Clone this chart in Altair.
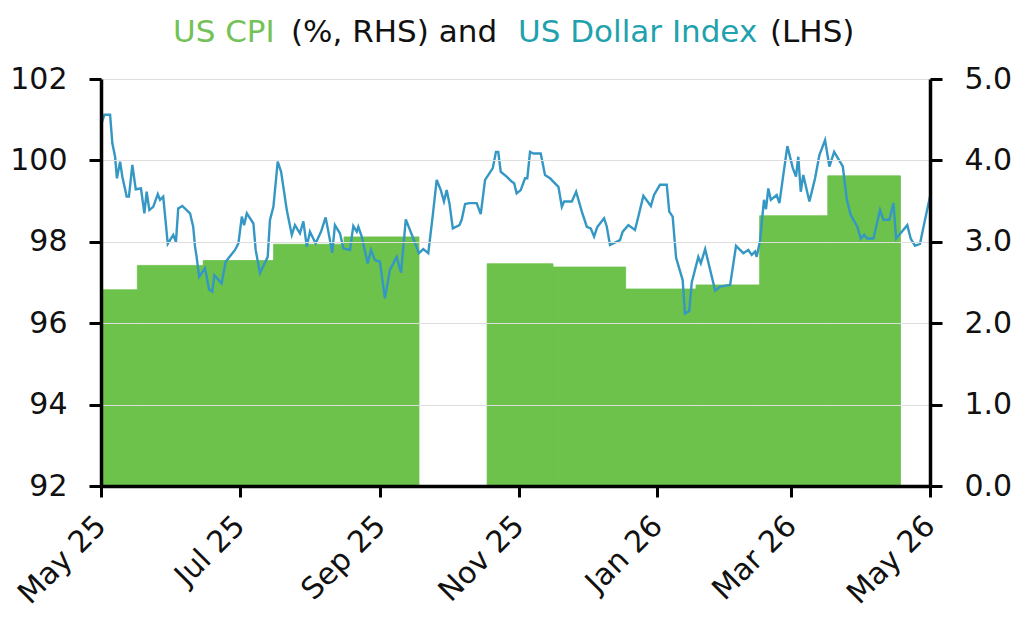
import altair as alt
import pandas as pd

# ---------------------------------------------
# DATA
# ---------------------------------------------

# US CPI (%), stepped: each value holds from start to end (right axis)
cpi_start = ["2025-05-01", "2025-05-17", "2025-06-15", "2025-07-16", "2025-08-16",
             "2025-10-18", "2025-11-16", "2025-12-18", "2026-01-18", "2026-02-15",
             "2026-03-17"]
cpi_end = ["2025-05-17", "2025-06-15", "2025-07-16", "2025-08-16", "2025-09-18",
           "2025-11-16", "2025-12-18", "2026-01-18", "2026-02-15", "2026-03-17",
           "2026-04-18"]
cpi_value = [2.41, 2.71, 2.77, 2.97, 3.06, 2.73, 2.69, 2.42, 2.47, 3.32, 3.81]

# US Dollar Index: days after 1 May 2025 and index level (left axis)
dxy_day = [0, 1.5, 4.0, 5.0, 6.2, 7.0, 8.4, 9.4, 11.3, 12.3, 13.8, 15.3, 17.6, 19.1,
           20.1, 21.3, 23.0, 25.0, 26.0, 27.4, 29.4, 31.8, 33.0, 34.0, 35.8, 39.2,
           40.6, 41.4, 42.1, 43.2, 45.8, 47.6, 49.0, 49.9, 53.1, 54.9, 59.0, 60.5,
           62.0, 63.0, 64.2, 67.1, 68.1, 70.0, 73.4, 74.4, 75.9, 77.8, 79.3, 81.8,
           84.0, 85.4, 87.6, 89.1, 90.6, 92.0, 94.5, 96.9, 98.9, 100.1, 101.8, 103.0,
           105.2, 106.7, 109.6, 111.1, 112.6, 113.3, 114.8, 117.4, 118.9, 120.6,
           122.8, 125.0, 127.2, 130.2, 132.1, 134.2, 137.5, 140.0, 141.9, 144.1,
           146.1, 147.8, 149.6, 151.0, 152.2, 153.4, 154.9, 157.8, 158.8, 160.3,
           162.2, 165.4, 167.2, 169.1, 171.0, 172.5, 173.9, 174.9, 176.0, 178.6,
           180.8, 181.9, 183.0, 184.8, 186.7, 187.7, 188.9, 190.4, 193.6, 195.5,
           197.7, 201.4, 202.9, 203.9, 207.3, 209.2, 211.7, 213.9, 215.6, 217.1,
           218.5, 221.5, 222.7, 224.1, 228.5, 229.7, 232.2, 235.1, 236.6, 238.8,
           242.1, 243.5, 246.1, 249.1, 250.2, 251.7, 253.2, 256.1, 257.1, 259.0,
           260.1, 263.0, 264.1, 266.0, 270.4, 272.6, 277.0, 279.6, 282.8, 285.0,
           286.5, 288.0, 288.7, 290.2, 291.9, 292.8, 293.8, 294.9, 297.5, 298.7,
           300.2, 302.2, 304.6, 306.0, 307.0, 308.1, 309.2, 311.9, 314.4, 316.3,
           318.8, 320.7, 322.8, 326.6, 328.4, 330.1, 333.0, 334.5, 336.0, 337.4,
           340.1, 343.0, 344.5, 347.1, 348.9, 350.1, 355.0, 356.5, 358.4, 360.6,
           362.0, 365.0]
dxy_value = [100.87, 101.12, 101.12, 100.42, 100.09, 99.56, 99.97, 99.60, 99.11, 99.11,
             99.89, 99.29, 99.31, 98.70, 99.23, 98.78, 98.86, 99.17, 99.03, 99.11,
             97.95, 98.17, 98.00, 98.82, 98.88, 98.70, 98.37, 97.88, 97.63, 97.14,
             97.35, 96.83, 96.78, 97.18, 96.98, 97.51, 97.80, 97.96, 98.62, 98.41,
             98.70, 98.45, 97.80, 97.23, 97.63, 98.54, 98.86, 99.97, 99.72, 98.78,
             98.17, 98.41, 98.21, 98.50, 97.88, 98.25, 97.96, 98.25, 98.60, 98.25,
             97.73, 98.41, 98.21, 97.84, 97.80, 98.39, 98.25, 98.37, 98.13, 97.47,
             97.80, 97.55, 97.51, 96.61, 97.31, 97.63, 97.24, 98.55, 98.08, 97.72,
             97.82, 97.72, 98.66, 99.52, 99.27, 98.99, 99.27, 98.95, 98.33, 98.41,
             98.54, 98.93, 98.95, 98.95, 98.68, 99.52, 99.68, 99.81, 100.21, 100.21,
             99.72, 99.60, 99.48, 99.44, 99.19, 99.27, 99.56, 99.56, 100.21, 100.17,
             100.17, 99.64, 99.56, 99.35, 98.86, 98.99, 98.99, 99.23, 98.74, 98.37,
             98.33, 98.13, 98.36, 98.58, 98.37, 97.92, 98.04, 98.25, 98.41, 98.29,
             98.62, 99.13, 98.88, 99.15, 99.40, 99.40, 98.74, 98.62, 97.61, 97.06,
             96.24, 96.30, 97.00, 97.63, 97.47, 97.82, 96.80, 96.90, 96.94, 97.90,
             97.72, 97.80, 97.68, 97.76, 97.63, 98.04, 99.03, 98.80, 99.31, 99.03,
             99.15, 98.95, 99.56, 100.35, 99.81, 99.60, 100.09, 99.23, 99.64, 98.99,
             99.56, 100.13, 100.50, 99.85, 100.21, 99.85, 99.03, 98.66, 98.37, 98.08,
             98.17, 98.08, 98.08, 98.78, 98.54, 98.54, 98.95, 98.08, 98.41, 98.08,
             97.90, 97.95, 98.33, 99.11]

x_ticks = ["2025-05-01", "2025-07-01", "2025-09-01", "2025-11-01",
           "2026-01-01", "2026-03-01", "2026-05-01"]
left_ticks = [92, 94, 96, 98, 100, 102]
right_ticks = [0, 1, 2, 3, 4, 5]

title_parts = ["US CPI", "(%, RHS) and", "US Dollar Index", "(LHS)"]

# ---------------------------------------------
# STYLE
# ---------------------------------------------
GREEN = "#6cc24a"
GREEN_TXT = "#74c257"
BLUE = "#3597c3"
TEAL = "#1fa2ad"
INK = "#111111"
FONT = "DejaVu Sans"
FS = 30

title_colors = [GREEN_TXT, INK, TEAL, INK]
title_x = [72, 190, 417, 669]

cpi_df = pd.DataFrame({"start": cpi_start, "end": cpi_end, "cpi": cpi_value})

origin = pd.Timestamp("2025-05-01")
dxy_dates = origin + pd.to_timedelta(dxy_day, unit="D")
dxy_df = pd.DataFrame({
    "date": dxy_dates.strftime("%Y-%m-%dT%H:%M:%SZ"),
    "dxy": dxy_value,
})


def utc_dt(s):
    t = pd.Timestamp(s)
    return alt.DateTime(year=t.year, month=t.month, date=t.day, utc=True)


x_scale = alt.Scale(type="utc", domain=[utc_dt(x_ticks[0]), utc_dt(x_ticks[-1])])
x_axis = alt.Axis(
    values=[utc_dt(d) for d in x_ticks],
    labelExpr="utcFormat(datum.value, '%b %y')",
    labelAngle=-45, labelAlign="right", labelBaseline="middle",
    labelPadding=24, tickSize=11, grid=False, title="", zindex=2,
)

axis_common = dict(
    domainColor="black", domainWidth=3.5, tickColor="black", tickWidth=3,
    tickSize=12, labelFont=FONT, labelFontSize=FS, labelColor=INK,
    labelPadding=22, title="",
)

bars = alt.Chart(cpi_df).mark_rect(color=GREEN, stroke=GREEN, strokeWidth=0.8).encode(
    x=alt.X("start:T", scale=x_scale, axis=x_axis),
    x2="end:T",
    y=alt.Y("cpi:Q", scale=alt.Scale(domain=[0, 5], nice=False),
            axis=alt.Axis(orient="right", values=right_ticks, format=".1f",
                          grid=False, zindex=2, **axis_common)),
    y2=alt.datum(0),
)

line = alt.Chart(dxy_df).mark_line(color=BLUE, strokeWidth=2.4).encode(
    x=alt.X("date:T", scale=x_scale, axis=x_axis),
    y=alt.Y("dxy:Q", scale=alt.Scale(domain=[92, 102], nice=False, zero=False),
            axis=alt.Axis(orient="left", values=left_ticks, format="d",
                          grid=True, gridColor="#dedede", gridWidth=1,
                          zindex=2, **axis_common)),
)

title_layers = []
for part, col, px in zip(title_parts, title_colors, title_x):
    title_layers.append(
        alt.Chart(pd.DataFrame({"t": [part]})).mark_text(
            font=FONT, fontSize=31, color=col, align="left", baseline="alphabetic"
        ).encode(text="t:N", x=alt.value(px), y=alt.value(-37))
    )

chart = alt.layer(bars, line, *title_layers).resolve_scale(
    y="independent"
).properties(
    width=829,
    height=407,
    autosize=alt.AutoSizeParams(type="none"),
    padding={"left": 93, "top": 71, "right": 86, "bottom": 131},
).configure_view(strokeWidth=0).configure_axis(
    labelFont=FONT, labelFontSize=FS, labelColor=INK,
    domainColor="black", domainWidth=3.5, tickColor="black", tickWidth=3,
)

chart.save("out.html", embed_options={"renderer": "svg", "actions": False})
